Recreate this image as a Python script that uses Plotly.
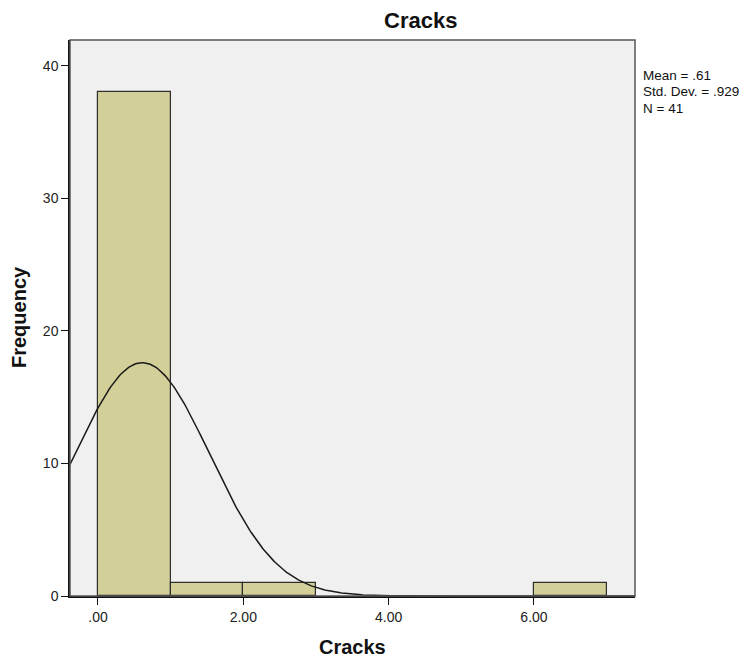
import numpy as np
import plotly.graph_objects as go

bin_left = [0, 1, 2, 6]
bin_counts = [38, 1, 1, 1]
bin_width = 1.0
mean_val = 0.61
std_val = 0.929
n_val = 41
stats_lines = ["Mean = .61", "Std. Dev. = .929", "N = 41"]
x_tickvals = [0, 2, 4, 6]
x_ticktext = [".00", "2.00", "4.00", "6.00"]
y_tickvals = [0, 10, 20, 30, 40]
x_range = [-0.385, 7.39]
y_range = [0, 41.96]

FONT = "Liberation Sans, Arial, sans-serif"
W, H = 752, 662
L, R, T, B = 70, 117, 40, 66
PW, PH = W - L - R, H - T - B


def px_x(x):
    return (x - L) / PW


def px_y(y):
    return 1 - (y - T) / PH


fig = go.Figure()
fig.add_trace(go.Bar(
    x=[b + bin_width / 2 for b in bin_left], y=bin_counts, width=bin_width,
    marker=dict(color="#D3CF98", line=dict(color="#2e2e2e", width=1.2)),
    showlegend=False, hoverinfo="skip"))

xs = np.linspace(x_range[0], x_range[1], 400)
ys = n_val * bin_width / (std_val * np.sqrt(2 * np.pi)) * np.exp(-0.5 * ((xs - mean_val) / std_val) ** 2)
fig.add_trace(go.Scatter(x=xs, y=ys, mode="lines", line=dict(color="#1a1a1a", width=1.5),
                         showlegend=False, hoverinfo="skip"))

fig.update_layout(
    width=W, height=H,
    margin=dict(l=L, r=R, t=T, b=B),
    paper_bgcolor="white", plot_bgcolor="#F0F0F0",
    font=dict(family=FONT, size=14, color="#1a1a1a"),
    bargap=0,
    xaxis=dict(range=x_range, tickvals=x_tickvals, ticktext=x_ticktext, showgrid=False,
               zeroline=False, showline=True, linecolor="#111", linewidth=1.5,
               ticks="outside", ticklen=7, tickcolor="#111", tickwidth=1.2,
               tickfont=dict(size=14, color="#222")),
    yaxis=dict(range=y_range, tickvals=y_tickvals, showgrid=False, zeroline=False,
               showline=True, linecolor="#111", linewidth=1.5,
               ticks="outside", ticklen=7, tickcolor="#111", tickwidth=1.2,
               tickfont=dict(size=14, color="#222")),
)

# frame (top/right border)
fig.add_shape(type="rect", xref="paper", yref="paper", x0=0, x1=1, y0=0, y1=1,
              line=dict(color="#555", width=1.5), layer="above")

# titles
fig.add_annotation(xref="paper", yref="paper", x=px_x(420), y=px_y(20), xanchor="center",
                   yanchor="middle", showarrow=False, text="<b>Cracks</b>",
                   font=dict(size=22, family=FONT, color="#111"))
fig.add_annotation(xref="paper", yref="paper", x=px_x(352), y=px_y(647), xanchor="center",
                   yanchor="middle", showarrow=False, text="<b>Cracks</b>",
                   font=dict(size=20, family=FONT, color="#111"))
fig.add_annotation(xref="paper", yref="paper", x=px_x(19), y=px_y(317), xanchor="center",
                   yanchor="middle", showarrow=False, text="<b>Frequency</b>", textangle=-90,
                   font=dict(size=20, family=FONT, color="#111"))

# stats box
for i, line in enumerate(stats_lines):
    fig.add_annotation(xref="paper", yref="paper", x=px_x(642), y=px_y(75 + i * 16.5),
                       xanchor="left", yanchor="middle", showarrow=False, align="left",
                       borderpad=0, text=line, font=dict(size=13.5, family=FONT, color="#111"))

fig.write_html("out.html")
